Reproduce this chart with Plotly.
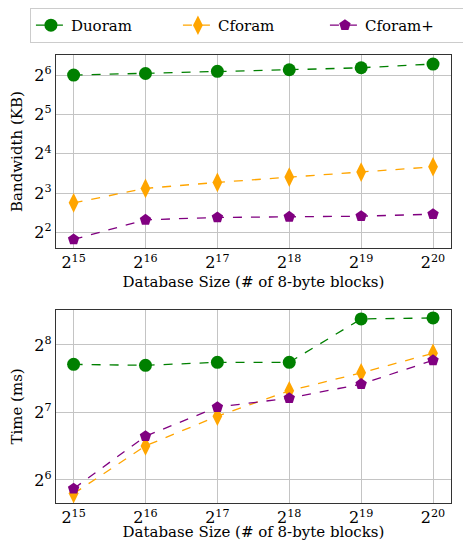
import math
import plotly.graph_objects as go
from plotly.subplots import make_subplots

db_size = [2**15, 2**16, 2**17, 2**18, 2**19, 2**20]
x_tick_labels = ["2<sup>15</sup>", "2<sup>16</sup>", "2<sup>17</sup>", "2<sup>18</sup>", "2<sup>19</sup>", "2<sup>20</sup>"]

bw_duoram = [64.0, 65.8, 68.3, 70.3, 72.8, 77.7]
bw_cforam = [6.73, 8.68, 9.65, 10.59, 11.57, 12.7]
bw_cforam_plus = [3.53, 4.99, 5.20, 5.26, 5.32, 5.51]

time_duoram = [209.8, 207.7, 214.2, 214.2, 334.6, 338.0]
time_cforam = [55.6, 90.8, 123.2, 159.9, 192.4, 235.1]
time_cforam_plus = [58.5, 100.3, 135.2, 148.3, 171.3, 218.7]

bw_tick_vals = [4, 8, 16, 32, 64]
bw_tick_labels = ["2<sup>2</sup>", "2<sup>3</sup>", "2<sup>4</sup>", "2<sup>5</sup>", "2<sup>6</sup>"]
time_tick_vals = [64, 128, 256]
time_tick_labels = ["2<sup>6</sup>", "2<sup>7</sup>", "2<sup>8</sup>"]

names = ["Duoram", "Cforam", "Cforam+"]
colors = ["green", "orange", "purple"]
symbols = ["circle", "diamond-tall", "pentagon"]
sizes = [13, 14, 12]

FONT = "DejaVu Serif"
L2 = math.log10(2)
fig = make_subplots(rows=2, cols=1)

for i, (bw, tm) in enumerate([(bw_duoram, time_duoram), (bw_cforam, time_cforam), (bw_cforam_plus, time_cforam_plus)]):
    fig.add_trace(go.Scatter(x=db_size, y=bw, name=names[i], mode="lines+markers",
                             line=dict(color=colors[i], width=1.3, dash="dash"),
                             marker=dict(color=colors[i], symbol=symbols[i], size=sizes[i]),
                             showlegend=True), row=1, col=1)
    fig.add_trace(go.Scatter(x=db_size, y=tm, name=names[i], mode="lines+markers",
                             line=dict(color=colors[i], width=1.3, dash="dash"),
                             marker=dict(color=colors[i], symbol=symbols[i], size=sizes[i]),
                             showlegend=False), row=2, col=1)

axis_common = dict(type="log", showgrid=True, gridcolor="#c4c4c4", gridwidth=1,
                   showline=True, linecolor="#333", linewidth=1.3, mirror=True,
                   zeroline=False, ticks="", tickfont=dict(family=FONT, size=16, color="black"))

fig.update_xaxes(**axis_common, tickvals=db_size, ticktext=x_tick_labels,
                 range=[14.755 * L2, 20.25 * L2],
                 title=dict(text="Database Size (# of 8-byte blocks)", font=dict(family=FONT, size=15, color="black"), standoff=5))
fig.update_yaxes(**axis_common)
fig.update_yaxes(tickvals=bw_tick_vals, ticktext=bw_tick_labels, range=[1.60 * L2, 6.51 * L2],
                 title=dict(text="Bandwidth (KB)", font=dict(family=FONT, size=15, color="black"), standoff=8), row=1, col=1)
fig.update_yaxes(tickvals=time_tick_vals, ticktext=time_tick_labels, range=[5.658 * L2, 8.52 * L2],
                 title=dict(text="Time (ms)", font=dict(family=FONT, size=15, color="black"), standoff=8), row=2, col=1)

fig.update_layout(
    width=463, height=533,
    margin=dict(l=48, r=20, t=47, b=38, autoexpand=False),
    font=dict(family=FONT, color="black"),
    plot_bgcolor="white", paper_bgcolor="white",
    yaxis=dict(domain=[0.569, 1.0]),
    yaxis2=dict(domain=[0.0, 0.431]),
    legend=dict(orientation="h", x=-0.066, y=1.105, xanchor="left", yanchor="top",
                bordercolor="#cccccc", borderwidth=1, bgcolor="white",
                font=dict(family=FONT, size=15, color="black"),
                itemwidth=30, entrywidth=102, entrywidthmode="pixels"),
)

fig.write_html("out.html")
